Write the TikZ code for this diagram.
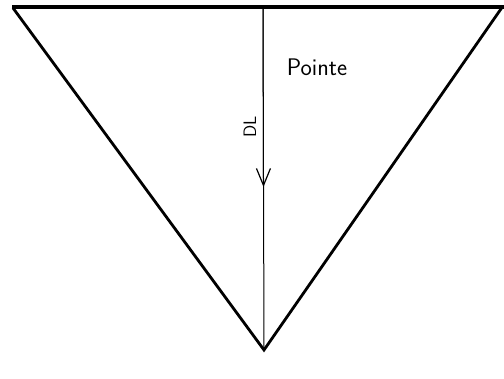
\documentclass[tikz,border=0pt]{standalone}
\usetikzlibrary{arrows.meta}
\begin{document}
\begin{tikzpicture}[x=1pt,y=-1pt,
  side/.style={line width=2.8pt},
  topedge/.style={line width=3.4pt},
  axis/.style={line width=1pt},
  lbl/.style={font=\sffamily\fontsize{24}{26}\selectfont, inner sep=0pt}]
\useasboundingbox (0,0) rectangle (504,379);
\coordinate (tl) at (12,7);
\coordinate (tr) at (504,7);
\coordinate (tm) at (263,7);
\coordinate (apex) at (264,350);
\coordinate (tip) at (263.5,187);
\draw[topedge] (tl) -- (tr);
\draw[side, line join=miter] (13,8) -- (apex) -- (503,6);
\draw[axis] (tm) -- (apex);
\draw[axis, -{Straight Barb[length=17pt,width=14pt,line width=1.2pt]}] (tm) -- (tip);
\node[lbl] (pointe) at (317,67) {Pointe};
\node[lbl, font=\sffamily\fontsize{18}{20}\selectfont, rotate=90] (dl) at (250,127) {DL};
\end{tikzpicture}
\end{document}
